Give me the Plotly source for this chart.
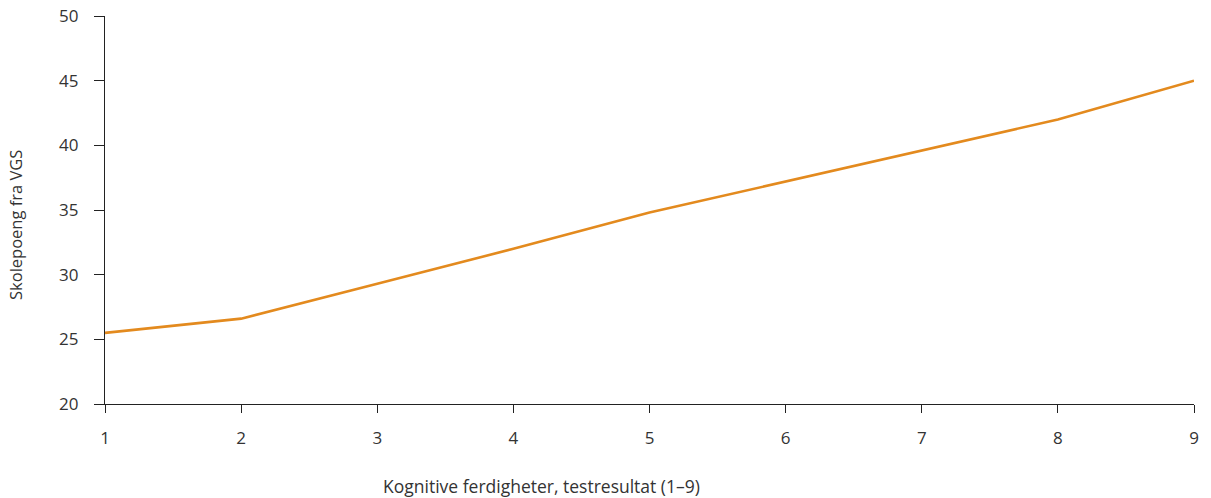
import plotly.graph_objects as go

x_vals = [1, 2, 3, 4, 5, 6, 7, 8, 9]
y_vals = [25.5, 26.6, 29.3, 32.0, 34.8, 37.2, 39.6, 42.0, 45.0]
x_ticks = [1, 2, 3, 4, 5, 6, 7, 8, 9]
y_ticks = [20, 25, 30, 35, 40, 45, 50]

x_title = "Kognitive ferdigheter, testresultat (1–9)"
y_title = "Skolepoeng fra VGS"

fig = go.Figure()
fig.add_trace(go.Scatter(x=x_vals, y=y_vals, mode="lines",
                         line=dict(color="#e38a1e", width=2.6), showlegend=False))

txt = "#333333"
fig.update_layout(
    width=1211, height=498,
    margin=dict(l=105, r=17, t=16, b=94, autoexpand=False),
    paper_bgcolor="white", plot_bgcolor="white",
    font=dict(family="Open Sans, Lato, sans-serif", size=16, color=txt),
    xaxis=dict(range=[1, 9], tickvals=x_ticks, showgrid=False, zeroline=False,
               automargin=False, ticklabeloverflow="allow",
               showline=True, linecolor="#222222", linewidth=1.3,
               ticks="outside", ticklen=8, tickcolor="#222222", tickwidth=1.3,
               ticklabelstandoff=10,
               tickfont=dict(size=17, color=txt)),
    yaxis=dict(range=[20, 50], tickvals=y_ticks, showgrid=False, zeroline=False,
               automargin=False, ticklabeloverflow="allow",
               showline=True, linecolor="#222222", linewidth=1.3,
               ticks="outside", ticklen=10, tickcolor="#222222", tickwidth=1.3,
               ticklabelstandoff=12,
               tickfont=dict(size=17, color=txt)),
    annotations=[
        dict(text=x_title, xref="paper", yref="paper", x=(541 - 105) / 1089,
             y=-82 / 388, xanchor="center", yanchor="middle", showarrow=False,
             font=dict(size=17.5, color=txt)),
        dict(text=y_title, xref="paper", yref="paper", x=(15 - 105) / 1089,
             y=(404 - 225) / 388, xanchor="center", yanchor="middle", showarrow=False,
             textangle=-90, font=dict(size=16.5, color=txt)),
    ],
)

fig.write_html("out.html", config={"displayModeBar": False},
               post_script="document.body.style.margin='0';document.body.style.overflow='hidden';")
